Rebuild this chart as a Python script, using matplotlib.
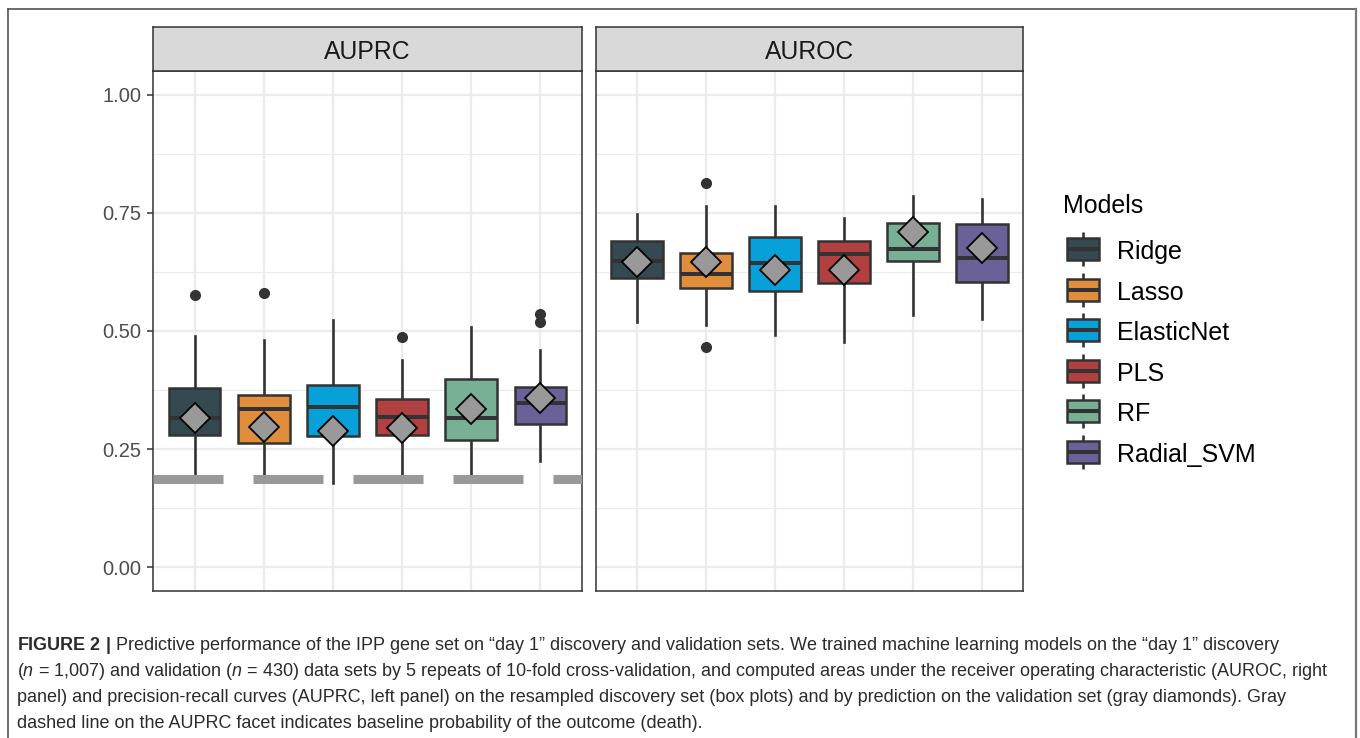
import matplotlib
matplotlib.use("Agg")
import matplotlib.pyplot as plt
from matplotlib.lines import Line2D
from matplotlib.patches import Rectangle

plt.rcParams['font.family'] = ['Liberation Sans', 'DejaVu Sans']
plt.rcParams['mathtext.fontset'] = 'custom'
plt.rcParams['mathtext.rm'] = 'Liberation Sans'
plt.rcParams['mathtext.it'] = 'Liberation Sans:italic'
plt.rcParams['mathtext.bf'] = 'Liberation Sans:bold'
plt.rcParams['lines.scale_dashes'] = False

# ---------------- data ----------------
models = ["Ridge", "Lasso", "ElasticNet", "PLS", "RF", "Radial_SVM"]
colors = ["#344A50", "#E08E3C", "#08A0D8", "#B24040", "#78B096", "#6B6199"]

auprc_whislo = [0.190, 0.190, 0.179, 0.190, 0.190, 0.226]
auprc_q1     = [0.281, 0.263, 0.278, 0.281, 0.269, 0.303]
auprc_med    = [0.315, 0.335, 0.340, 0.318, 0.316, 0.347]
auprc_q3     = [0.380, 0.364, 0.386, 0.357, 0.398, 0.381]
auprc_whishi = [0.489, 0.480, 0.524, 0.438, 0.508, 0.460]
auprc_fliers = [[0.576], [0.580], [], [0.487], [], [0.518, 0.537]]
auprc_valid  = [0.315, 0.297, 0.289, 0.294, 0.334, 0.359]

auroc_whislo = [0.520, 0.513, 0.492, 0.476, 0.534, 0.525]
auroc_q1     = [0.613, 0.592, 0.585, 0.602, 0.648, 0.603]
auroc_med    = [0.649, 0.621, 0.643, 0.662, 0.674, 0.654]
auroc_q3     = [0.691, 0.664, 0.699, 0.690, 0.729, 0.726]
auroc_whishi = [0.748, 0.765, 0.765, 0.740, 0.785, 0.780]
auroc_fliers = [[], [0.466, 0.814], [], [], [], []]
auroc_valid  = [0.647, 0.647, 0.629, 0.628, 0.710, 0.675]

baseline_prob = 0.187

yticks = [0.00, 0.25, 0.50, 0.75, 1.00]
ytick_labels = ["0.00", "0.25", "0.50", "0.75", "1.00"]
minor_ticks = [0.125, 0.375, 0.625, 0.875]

facets = ["AUPRC", "AUROC"]
legend_title = "Models"

caption_lines = [
    r"$\mathbf{FIGURE\ 2\ |}$ Predictive performance of the IPP gene set on \u201cday 1\u201d discovery and validation sets. We trained machine learning models on the \u201cday 1\u201d discovery",
    r"($\mathit{n}$ = 1,007) and validation ($\mathit{n}$ = 430) data sets by 5 repeats of 10-fold cross-validation, and computed areas under the receiver operating characteristic (AUROC, right",
    "panel) and precision-recall curves (AUPRC, left panel) on the resampled discovery set (box plots) and by prediction on the validation set (gray diamonds). Gray",
    "dashed line on the AUPRC facet indicates baseline probability of the outcome (death).",
]
caption_lines = [s.replace(r"\u201c", "\u201c").replace(r"\u201d", "\u201d") for s in caption_lines]

# ---------------- layout helpers ----------------
W, H = 1360, 738
fig = plt.figure(figsize=(W / 100, H / 100), dpi=100)
fig.patch.set_facecolor("white")


def fx(px):
    return px / W


def fy(py):
    return 1 - py / H


EDGE = "#333333"
GRID = "#EBEBEB"


def make_panel(x0, x1, title, show_y):
    ax = fig.add_axes([fx(x0), fy(591), (x1 - x0) / W, (591 - 71) / H])
    st = fig.add_axes([fx(x0), fy(71), (x1 - x0) / W, (71 - 27) / H])
    ax.set_xlim(0.4, 6.6)
    ax.set_ylim(-0.05, 1.05)
    ax.set_yticks(yticks)
    ax.set_yticks(minor_ticks, minor=True)
    ax.set_xticks(range(1, len(models) + 1))
    ax.grid(True, which="major", color=GRID, lw=1.6, zorder=0)
    ax.grid(True, which="minor", axis="y", color=GRID, lw=0.8, zorder=0)
    ax.set_axisbelow(True)
    ax.tick_params(axis="x", length=0, labelbottom=False)
    ax.tick_params(axis="y", which="minor", length=0)
    if show_y:
        ax.set_yticklabels(ytick_labels)
        ax.tick_params(axis="y", which="major", length=4.3, width=1.1, color=EDGE,
                       labelsize=14.5, labelcolor="#4D4D4D", pad=4)
    else:
        ax.tick_params(axis="y", which="major", length=0, labelleft=False)
    for s in ax.spines.values():
        s.set_color(EDGE)
        s.set_linewidth(1.1)
    st.set_facecolor("#D9D9D9")
    st.set_xticks([])
    st.set_yticks([])
    for s in st.spines.values():
        s.set_color(EDGE)
        s.set_linewidth(1.1)
    fig.text(fx((x0 + x1) / 2), fy(59), title, ha="center", va="baseline",
             fontsize=17.8, color="#1A1A1A")
    return ax


def draw_boxes(ax, lo, q1, med, q3, hi, fl, valid):
    stats = []
    for i in range(len(models)):
        stats.append(dict(med=med[i], q1=q1[i], q3=q3[i], whislo=lo[i],
                          whishi=hi[i], fliers=fl[i], label=models[i]))
    pos = list(range(1, len(models) + 1))
    bp = ax.bxp(stats, positions=pos, widths=0.75, patch_artist=True,
                showcaps=False, manage_ticks=False,
                boxprops=dict(edgecolor=EDGE, linewidth=1.8),
                medianprops=dict(color=EDGE, linewidth=2.9, solid_capstyle="butt"),
                whiskerprops=dict(color=EDGE, linewidth=1.9),
                flierprops=dict(marker="o", markerfacecolor=EDGE,
                                markeredgecolor=EDGE, markersize=7))
    for patch, c in zip(bp["boxes"], colors):
        patch.set_facecolor(c)
        patch.set_zorder(2)
    for w in bp["whiskers"]:
        w.set_zorder(1.9)
    for m in bp["medians"]:
        m.set_zorder(2.1)
    ax.plot(pos, valid, linestyle="none", marker="D", markersize=15.5,
            markerfacecolor="#999999", markeredgecolor="black",
            markeredgewidth=1.3, zorder=4)


ax_l = make_panel(153, 582, facets[0], True)
ax_r = make_panel(596, 1023, facets[1], False)

draw_boxes(ax_l, auprc_whislo, auprc_q1, auprc_med, auprc_q3, auprc_whishi,
           auprc_fliers, auprc_valid)
ax_l.axhline(baseline_prob, color="#999999", lw=6.5,
             linestyle=(0, (50.4, 21.6)), dash_capstyle="butt", zorder=3)
draw_boxes(ax_r, auroc_whislo, auroc_q1, auroc_med, auroc_q3, auroc_whishi,
           auroc_fliers, auroc_valid)

# ---------------- legend ----------------
lg = fig.add_axes([fx(1055), fy(480), 245 / W, 300 / H])
lg.set_xlim(1055, 1300)
lg.set_ylim(480, 180)
lg.axis("off")
lg.text(1063, 213.3, legend_title, fontsize=18, va="baseline", ha="left", color="black")
for i, (m, c) in enumerate(zip(models, colors)):
    cy = 249 + 40.6 * i
    lg.add_patch(Rectangle((1067, cy - 11), 32, 22, facecolor=c, edgecolor=EDGE, lw=1.8))
    lg.plot([1083, 1083], [cy - 17, cy - 11], color=EDGE, lw=1.9, solid_capstyle="butt")
    lg.plot([1083, 1083], [cy + 11, cy + 17], color=EDGE, lw=1.9, solid_capstyle="butt")
    lg.plot([1067, 1099], [cy, cy], color=EDGE, lw=2.9, solid_capstyle="butt")
    lg.text(1117, cy + 10, m, fontsize=18, va="baseline", ha="left", color="black")

# ---------------- outer frame ----------------
fig.add_artist(Line2D([fx(8.3), fx(8.3)], [fy(740), fy(8.7)], transform=fig.transFigure,
                      color="#444444", lw=1.1))
fig.add_artist(Line2D([fx(8.3), fx(1356)], [fy(8.7), fy(8.7)], transform=fig.transFigure,
                      color="#444444", lw=1.1))
fig.add_artist(Line2D([fx(1355.7), fx(1355.7)], [fy(740), fy(8.7)], transform=fig.transFigure,
                      color="#777777", lw=1.6))

# ---------------- caption ----------------
renderer = fig.canvas.get_renderer()
base_size = 11.5
probe = fig.text(0, 0, caption_lines[1], fontsize=base_size)
w = probe.get_window_extent(renderer).width
probe.remove()
cap_size = base_size * (1311.0 / w)
for k, line in enumerate(caption_lines):
    fig.text(fx(17), fy(650 + 26 * k), line, fontsize=cap_size, ha="left",
             va="baseline", color="#2B2B2B")

fig.savefig("out.png", dpi=100, facecolor="white")
